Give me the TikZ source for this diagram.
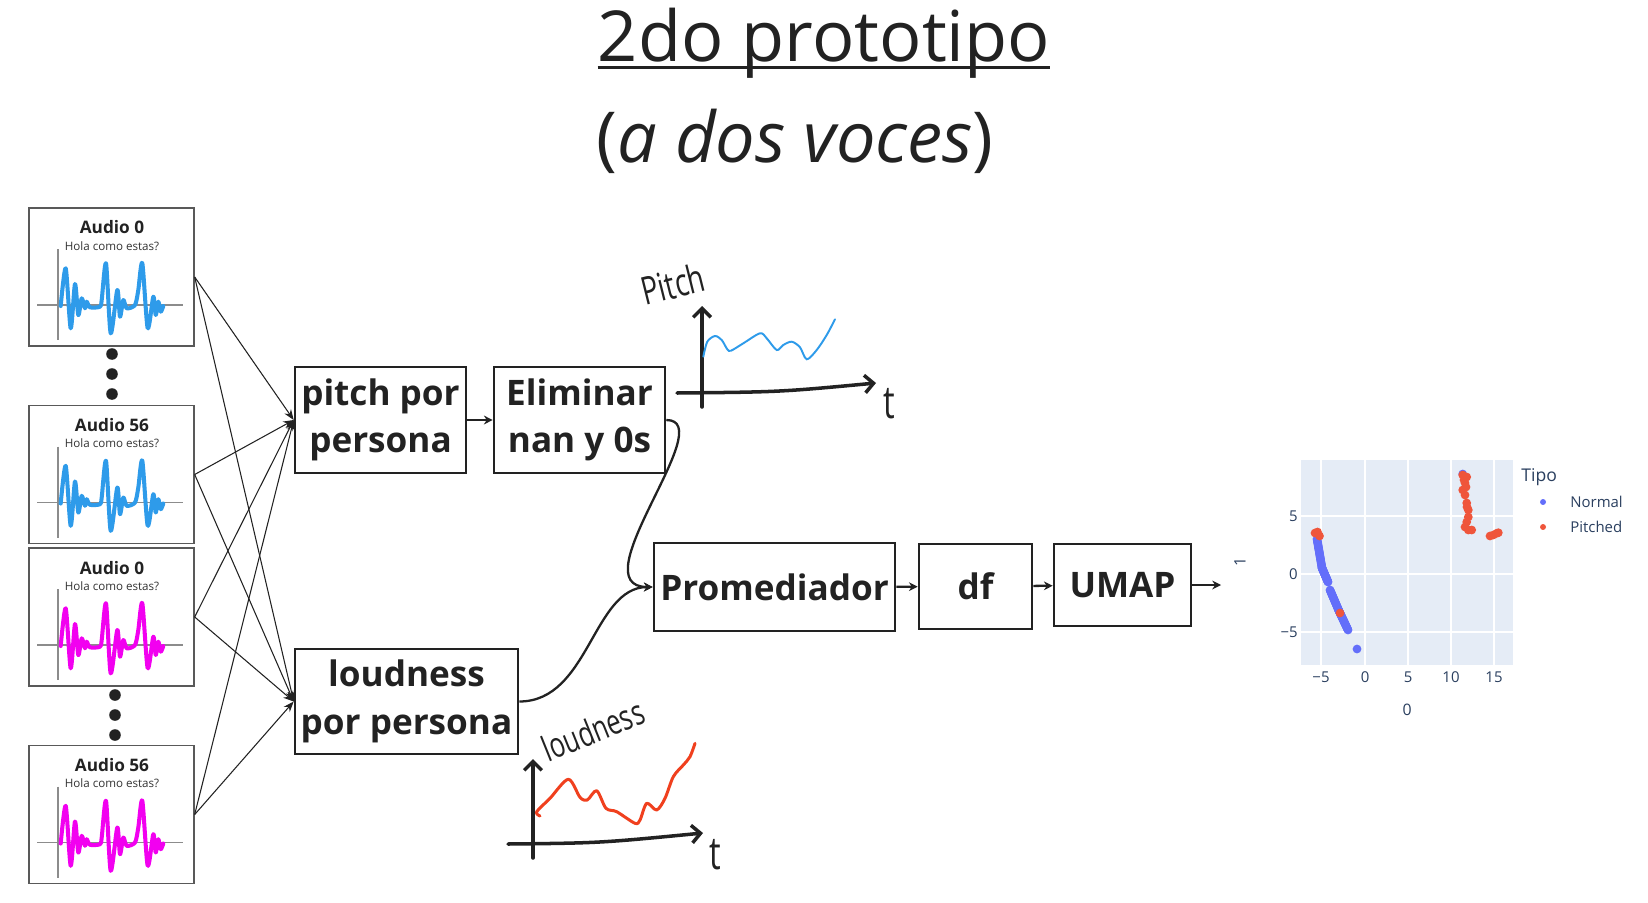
\documentclass[tikz,border=0pt]{standalone}
\usepackage{fontspec}
\setmainfont{Open Sans}
\newfontfamily\manofont[FakeStretch=0.72]{Open Sans}
\usepackage{tikz}
\usetikzlibrary{arrows.meta}
\usetikzlibrary{calc}
\usetikzlibrary{positioning}
\usepackage{xcolor}
\definecolor{tinta}{HTML}{222222}
\definecolor{azulonda}{HTML}{2E9BEA}
\definecolor{magonda}{HTML}{F200F0}
\definecolor{fondoplot}{HTML}{E5ECF6}
\definecolor{textoplot}{HTML}{2A3F5F}
\definecolor{normal}{HTML}{636EFA}
\definecolor{pitched}{HTML}{EF553B}
\definecolor{rojo}{HTML}{F0401E}
\tikzset{audio/.style={draw=black!65, line width=0.8pt, minimum width=3.3cm, minimum height=2.76cm, inner sep=0}}
\tikzset{caja/.style={draw=tinta, line width=1.5pt, inner sep=0, align=center, text=tinta, font=\bfseries\fontsize{20}{27}\selectfont}}
\tikzset{edge/.style={draw=tinta, line width=0.6pt, -{Stealth[length=6pt,width=4.5pt]}}}
\tikzset{flecha/.style={draw=tinta, line width=1.3pt, -{Stealth[length=5pt,width=5pt]}}}
\tikzset{mano/.style={draw=tinta, line width=2pt, line cap=round, line join=round, -{Straight Barb[length=5pt,width=10pt]}}}
\tikzset{letra/.style={text=tinta, inner sep=0, font=\manofont\fontsize{20}{24}\selectfont}}
\tikzset{onda/.style={draw=#1, line width=2.3pt, line join=round, line cap=round}}
\tikzset{eje/.style={draw=black!45, line width=0.6pt}}

\newcommand{\audio}[4]{%
  \node[audio] (#1) at (111.5,#2) {};
  \begin{scope}[shift={(#1.center)}]
    \node[anchor=base, inner sep=0, text=tinta, font=\bfseries\fontsize{9.8}{12}\selectfont] (#1t) at (0.5,-43) {#3};
    \node[anchor=base, inner sep=0, text=black!80, font=\fontsize{6.6}{8}\selectfont] (#1s) at (0.5,-27) {Hola como estas?};
    \draw[eje] (-53.5,-28) -- (-53.5,63);
    \draw[eje] (-74.5,28) -- (71.5,28);
    \draw[onda=#4] plot[smooth, tension=0.45] coordinates {(-50.8,29) (-45.8,-8.7) (-40.8,51.3) (-36.5,7) (-33.2,38) (-29.8,21.3) (-26.5,31.3) (-24.8,24.7) (-21.5,30.3) (-11.5,29.7) (-9.8,23) (-5.5,-13.7) (-0.8,56.3) (5.8,13) (8.5,39.7) (11.8,23) (15.2,31.3) (23.5,28) (26.8,13) (30.8,-13.7) (36.2,51.3) (41.8,19.7) (44.2,38) (46.8,24.7) (49.2,34.7) (51.8,29)};
  \end{scope}}

\begin{document}
\begin{tikzpicture}[x=0.02cm, y=-0.02cm]
  \useasboundingbox (0,0) rectangle (1648,902);
  \fill[white] (0,0) rectangle (1648,902);

  % titulo
  \node[anchor=base, inner sep=0, text=tinta, font=\fontsize{40}{48}\selectfont] (titulo) at (824,62) {2do prototipo};
  \draw[tinta, line width=1.7pt] ([yshift=-3.4pt]titulo.base west) -- ([yshift=-3.4pt]titulo.base east);
  \node[anchor=base, inner sep=0, text=tinta, font=\fontsize{40}{48}\selectfont] (subtitulo) at (795,163) {(\textit{a dos voces})};

  % audios
  \audio{a1}{277}{Audio 0}{azulonda}
  \audio{a2}{474.5}{Audio 56}{azulonda}
  \audio{a3}{617}{Audio 0}{magonda}
  \audio{a4}{814.5}{Audio 56}{magonda}
  \foreach \y in {354,374,394} \fill[tinta] (112,\y) circle (3.3pt);
  \foreach \y in {695,715,735} \fill[tinta] (115,\y) circle (3.3pt);

  % cajas
  \node[caja, minimum width=3.42cm, minimum height=2.12cm] (pitch) at (380.5,420) {pitch por\\persona};
  \node[caja, minimum width=3.42cm, minimum height=2.12cm] (elim) at (579.5,420) {Eliminar\\nan y 0s};
  \node[caja, minimum width=4.46cm, minimum height=2.1cm] (loud) at (406.5,701.5) {loudness\\por persona};
  \node[caja, minimum width=4.82cm, minimum height=1.76cm] (prom) at (774.5,587) {Promediador};
  \node[caja, minimum width=2.26cm, minimum height=1.7cm] (df) at (975.5,586.5) {df};
  \node[caja, minimum width=2.74cm, minimum height=1.64cm] (umap) at (1122.5,585) {UMAP};
  \coordinate (salida) at (1221,585);

  \foreach \a in {a1,a2,a3,a4}
    \foreach \b in {pitch,loud}
      \draw[edge] (\a.east) -- (\b.west);

  \draw[flecha] (pitch) -- (elim);
  \draw[flecha] (elim.east) .. controls +(55,0) and +(-75,0) .. (prom.west);
  \draw[flecha] (loud.east) .. controls +(70,0) and +(-60,0) .. (prom.west);
  \draw[flecha] (prom) -- (df);
  \draw[flecha] (df) -- (umap);
  \draw[flecha] (umap) -- (salida);

  % boceto pitch
  \node[letra, rotate=14, font=\manofont\fontsize{22}{26}\selectfont] (lpitch) at (673,284) {Pitch};
  \node[letra, font=\manofont\fontsize{26}{30}\selectfont] (tpitch) at (889,404) {t};
  \coordinate (p0) at (702,407);
  \coordinate (p1) at (702,306);
  \coordinate (p2) at (677,393);
  \coordinate (p3) at (876,383);
  \draw[mano] (p0) -- (p1);
  \draw[mano] (p2) .. controls (780,392) .. (p3);
  \draw[azulonda, line width=1.1pt, line cap=round] plot[smooth, tension=0.5] coordinates {(703.3,356.7) (707.3,341.7) (715,336) (721.7,340) (727.3,349.3) (731,350.7) (743.3,343.3) (760,333.3) (766.7,338.3) (776.7,350) (783.3,345) (791.7,341.7) (800,347.3) (806.7,359.3) (816.7,350) (826.7,335) (835,319.3)};

  % boceto loudness
  \node[letra, rotate=22] (lloud) at (593,730) {loudness};
  \node[letra, font=\manofont\fontsize{26}{30}\selectfont] (tloud) at (715,855) {t};
  \coordinate (q0) at (533,858);
  \coordinate (q1) at (533,759);
  \coordinate (q2) at (508,844);
  \coordinate (q3) at (703,833);
  \draw[mano] (q0) -- (q1);
  \draw[mano] (q2) .. controls (600,843) .. (q3);
  \draw[rojo, line width=1.7pt, line cap=round, line join=round] plot[smooth, tension=0.5] coordinates {(540,816) (536.7,811.7) (550,798.3) (568.3,779.3) (580,797.3) (587.3,800) (596.7,790.7) (606,808.3) (616.7,811.7) (635,823.3) (640,820) (646.7,803.3) (656.7,810) (665,798.3) (673.3,776.7) (683.3,765) (690,756.7) (695,743.3)};

  % UMAP scatter
  \fill[fondoplot] (1301,460) rectangle (1513,665);
  \foreach \px in {1321,1408,1451,1494} \draw[white, line width=0.6pt] (\px,460) -- (\px,665);
  \foreach \py in {516,632} \draw[white, line width=0.6pt] (1301,\py) -- (1513,\py);
  \draw[white, line width=1.2pt] (1365,460) -- (1365,665);
  \draw[white, line width=1.2pt] (1301,574) -- (1513,574);
  \foreach \v/\px [count=\i] in {−5/1321,0/1365,5/1408,10/1451,15/1494}
    \node[text=textoplot, font=\fontsize{8.5}{10}\selectfont] (xt\i) at (\px,677) {\v};
  \foreach \v/\py [count=\i] in {5/516,0/574,−5/632}
    \node[text=textoplot, anchor=east, inner sep=0, font=\fontsize{8.5}{10}\selectfont] (yt\i) at (1298,\py) {\v};
  \node[text=textoplot, font=\fontsize{9}{11}\selectfont] (xtit) at (1407,710) {0};
  \node[text=textoplot, rotate=90, font=\fontsize{9}{11}\selectfont] (ytit) at (1240,562) {1};
  \foreach \t in {0,0.04,...,1.001} {
    \fill[normal] ($(1317,539)!\t!(1322,568)$) circle (2.5pt);
    \fill[normal] ($(1322,568)!\t!(1328,582)$) circle (2.5pt);
    \fill[normal] ($(1330,590)!\t!(1339,611)$) circle (2.5pt);
    \fill[normal] ($(1339,611)!\t!(1348,630)$) circle (2.5pt);
  }
  \fill[normal] (1357,649) circle (2.5pt);
  \fill[normal] (1462.7,474) circle (2.5pt);
  \foreach \x/\y in {1315/533,1317.5/532,1319.5/536,1340/613,1462.7/475,1466.7/477,1464/480,1465/483,1466/487,1462.7/490,1465/495,1466.7/503,1467/507,1468.3/510,1468.3/517,1466.7/522,1465/527,1468.3/530,1471.7/530,1490/536,1493.3/535,1496.7/533.3,1498.3/532.7}
    \fill[pitched] (\x,\y) circle (2.5pt);

  % leyenda
  \node[text=textoplot, anchor=west, inner sep=0, font=\fontsize{10}{12}\selectfont] (tipo) at (1521,477) {Tipo};
  \fill[normal] (1543,502) circle (1.7pt);
  \fill[pitched] (1543,527) circle (1.7pt);
  \node[text=textoplot, anchor=west, inner sep=0, font=\fontsize{8.5}{10}\selectfont] (lnormal) at (1570,502) {Normal};
  \node[text=textoplot, anchor=west, inner sep=0, font=\fontsize{8.5}{10}\selectfont] (lpitched) at (1570,527) {Pitched};
\end{tikzpicture}
\end{document}
